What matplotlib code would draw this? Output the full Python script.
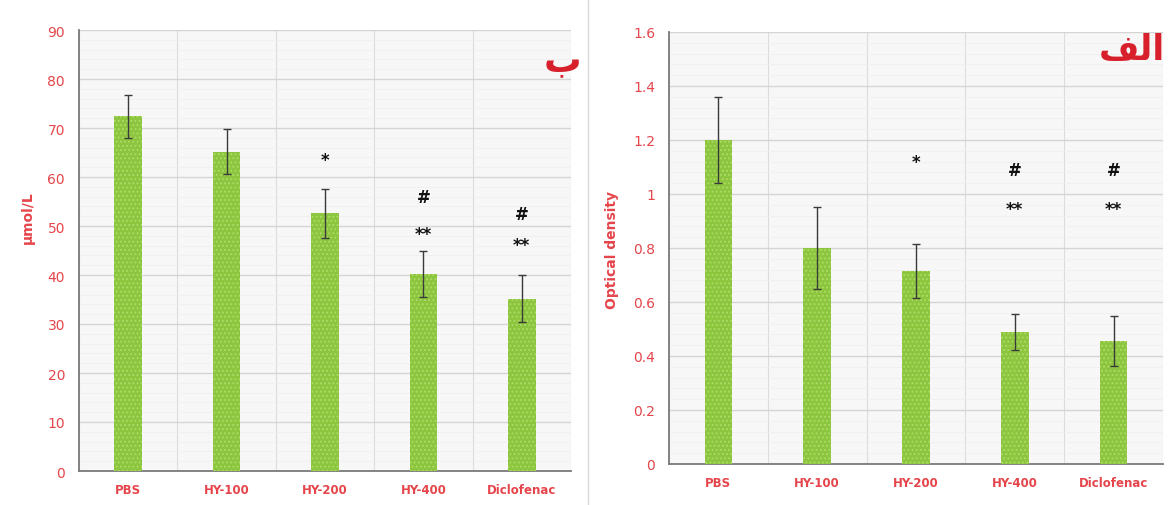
import matplotlib
matplotlib.use("Agg")
import matplotlib.pyplot as plt
from matplotlib.ticker import MultipleLocator
import numpy as np

categories = ["PBS", "HY-100", "HY-200", "HY-400", "Diclofenac"]

# Left panel (ب): µmol/L
left_values = [72.4, 65.2, 52.6, 40.3, 35.2]
left_errors = [4.4, 4.6, 5.0, 4.7, 4.7]
left_marks = [(2, "*", 63.4), (3, "#", 55.9), (3, "**", 48.4), (4, "#", 52.4), (4, "**", 46.1)]

# Right panel (الف): optical density
right_values = [1.20, 0.80, 0.713, 0.49, 0.456]
right_errors = [0.158, 0.153, 0.10, 0.067, 0.094]
right_marks = [(2, "*", 1.12), (3, "#", 1.09), (3, "**", 0.943), (4, "#", 1.09), (4, "**", 0.943)]

RED = "#e5454b"
BAR = "#8cc63e"
HATCH = "#b2da6a"

plt.rcParams["hatch.linewidth"] = 0.8

fig = plt.figure(figsize=(11.68, 5.06), dpi=100)


def panel(rect, values, errors, marks, ymax, major, minor, fmt):
    ax = fig.add_axes(rect)
    ax.set_facecolor("#f7f7f7")
    x = np.arange(len(categories))
    ax.bar(x, values, width=0.28, color=BAR, edgecolor=HATCH, linewidth=0,
           hatch="....", zorder=3)
    ax.errorbar(x, values, yerr=errors, fmt="none", ecolor="#3a3a3a",
                elinewidth=1.0, capsize=3, capthick=1.0, zorder=4)
    for i, s, y in marks:
        ax.text(i, y, s, ha="center", va="center", fontsize=12,
                fontweight="bold", color="#111111", zorder=5)
    ax.set_xlim(-0.5, len(categories) - 0.5)
    ax.set_ylim(0, ymax)
    ax.yaxis.set_major_locator(MultipleLocator(major))
    ax.yaxis.set_minor_locator(MultipleLocator(minor))
    ax.set_xticks(x)
    ax.set_xticklabels(categories, fontsize=8.5, color=RED, fontweight="bold")
    ax.set_xticks(np.arange(len(categories) + 1) - 0.5, minor=True)
    ax.yaxis.set_major_formatter(plt.FuncFormatter(fmt))
    ax.tick_params(axis="y", which="both", length=0, labelsize=10,
                   labelcolor=RED, pad=10)
    ax.tick_params(axis="x", which="both", length=0, pad=9)
    ax.grid(True, which="major", axis="y", color="#d4d4d4", linewidth=1.0, zorder=0)
    ax.grid(True, which="minor", axis="y", color="#eeeeee", linewidth=0.5, zorder=0)
    ax.grid(True, which="minor", axis="x", color="#dcdcdc", linewidth=0.8, zorder=0)
    ax.grid(False, which="major", axis="x")
    for s in ["top", "right"]:
        ax.spines[s].set_visible(False)
    for s in ["left", "bottom"]:
        ax.spines[s].set_color("#7a7a7a")
        ax.spines[s].set_linewidth(1.3)
    return ax


def fmt_int(v, p):
    return f"{v:.0f}"


def fmt_dec(v, p):
    if abs(v) < 1e-9:
        return "0"
    if abs(v - round(v)) < 1e-9:
        return f"{v:.0f}"
    return f"{v:.1f}"


panel([79 / 1168, 1 - 472 / 506, 492 / 1168, 441 / 506],
      left_values, left_errors, left_marks, 90, 10, 2, fmt_int)
panel([669 / 1168, 1 - 465 / 506, 494 / 1168, 432 / 506],
      right_values, right_errors, right_marks, 1.6, 0.2, 0.04, fmt_dec)

# axis titles
fig.text(28 / 1168, 1 - 218 / 506, "μmol/L", rotation=90, ha="center", va="center",
         fontsize=10, fontweight="bold", color=RED)
fig.text(612 / 1168, 1 - 250 / 506, "Optical density", rotation=90, ha="center",
         va="center", fontsize=10, fontweight="bold", color=RED)

# panel letters (Arabic, presentation forms for correct shaping)
fig.text(562 / 1168, 1 - 62 / 506, "\uFE8F", ha="center", va="center",
         fontsize=27, fontweight="bold", color="#d7202b")
fig.text(1165 / 1168, 1 - 50 / 506, "\uFED2\uFEDF\uFE8D", ha="right", va="center",
         fontsize=25, fontweight="bold", color="#d7202b")

# separator between panels
fig.add_artist(plt.Line2D([588 / 1168, 588 / 1168], [0.0, 1.0], transform=fig.transFigure,
                          color="#d8d8d8", linewidth=1.0))

fig.savefig("out.png", dpi=100, facecolor="white")
